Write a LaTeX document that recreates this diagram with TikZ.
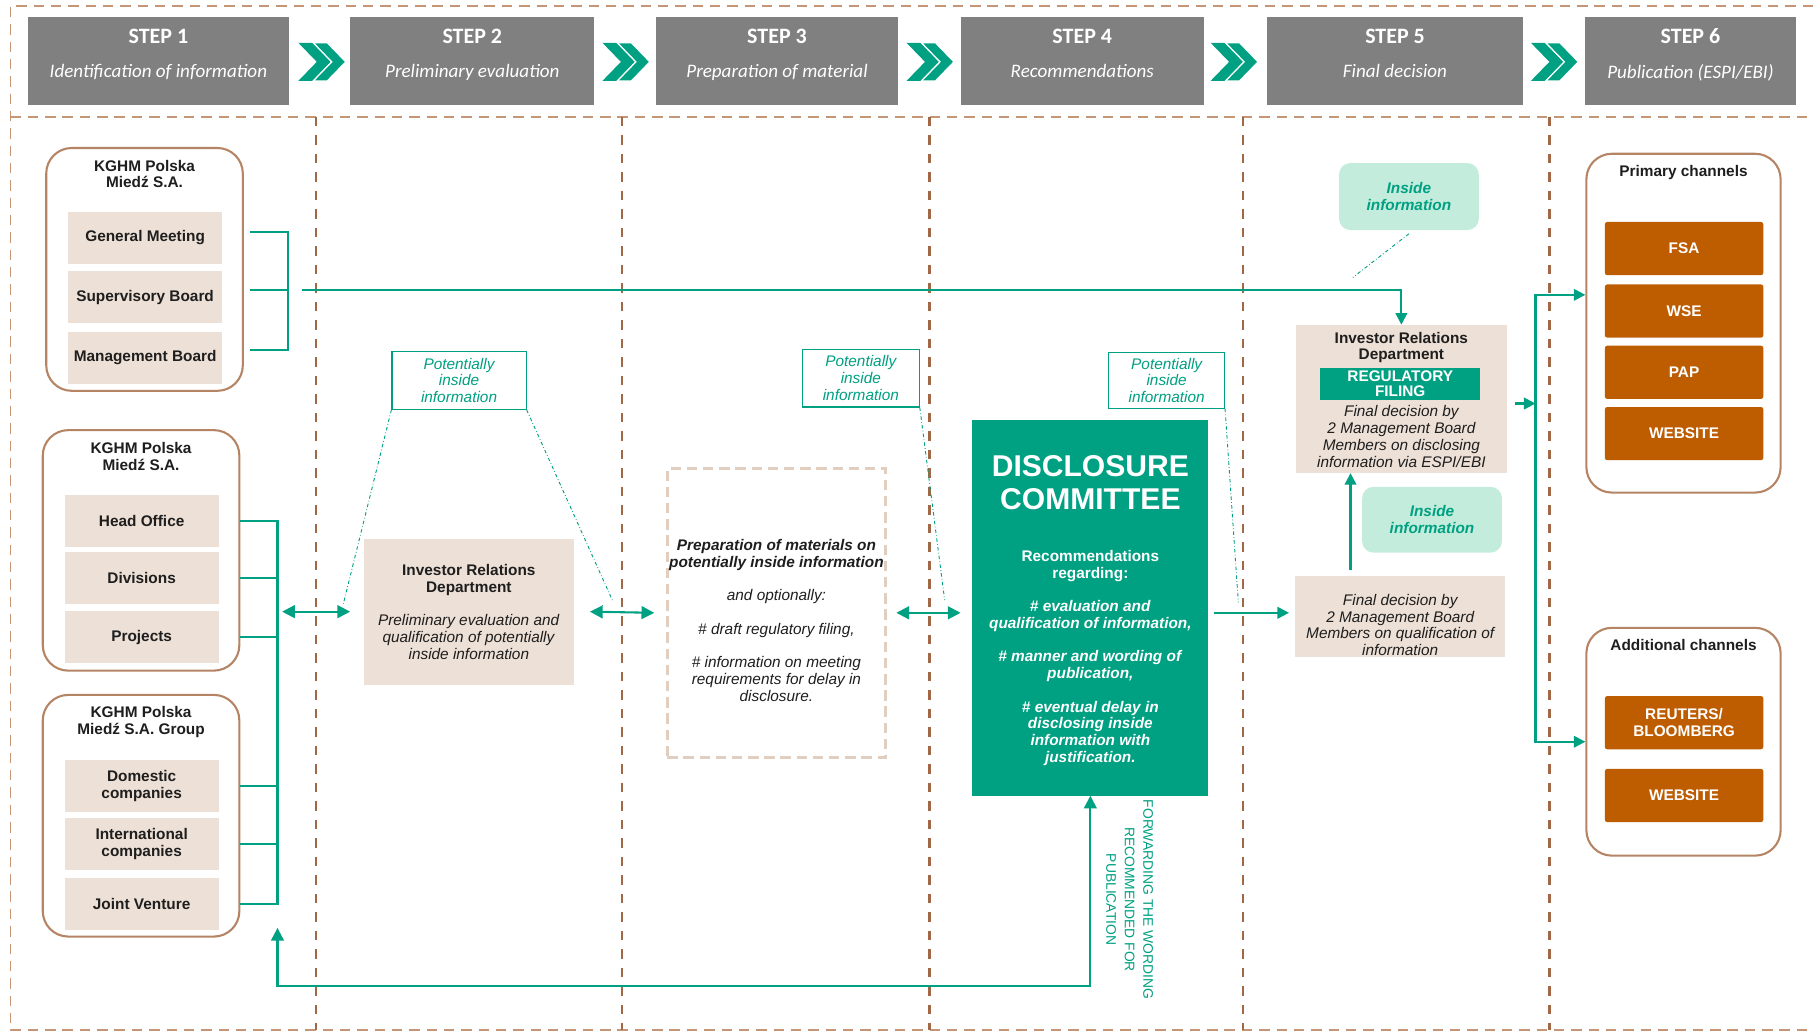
\documentclass[tikz,border=0pt]{standalone}
\usepackage{fontspec}
\setmainfont{Liberation Sans}
\newfontfamily\stepfont{Carlito}
\usetikzlibrary{arrows.meta}

\definecolor{stepgray}{RGB}{128,128,128}
\definecolor{tealc}{RGB}{0,160,130}
\definecolor{lightteal}{RGB}{196,236,220}
\definecolor{beige}{RGB}{237,224,214}
\definecolor{grpbrown}{RGB}{181,132,100}
\definecolor{brownline}{RGB}{160,104,70}
\definecolor{framebrown}{RGB}{196,150,118}
\definecolor{orangec}{RGB}{190,92,0}
\definecolor{prepline}{RGB}{226,206,190}
\definecolor{txtdark}{RGB}{30,30,30}

\newcommand{\bodyfont}{\fontsize{13.3}{14.5}\selectfont}

\tikzset{
  frame/.style={framebrown, line width=1.3pt, dash pattern=on 9pt off 6pt},
  coldiv/.style={brownline, line width=2pt, dash pattern=on 8pt off 8pt},
  stepbox/.style={fill=stepgray, text=white, font=\stepfont\fontsize{16.5}{20}\selectfont, minimum height=76pt, inner sep=0pt, align=center, text depth=14pt},
  grpbox/.style={draw=grpbrown, line width=1.8pt, rounded corners=22pt, fill=white, minimum width=170pt},
  grptitle/.style={font=\bodyfont\bfseries, text=txtdark, align=center, inner sep=0pt},
  rowbox/.style={fill=beige, text=txtdark, font=\bodyfont\bfseries, align=center, minimum width=133pt, minimum height=45pt, inner sep=0pt},
  beigebox/.style={fill=beige, text=txtdark, font=\bodyfont, align=center, inner sep=0pt},
  potbox/.style={draw=tealc, line width=1pt, fill=white, text=tealc, font=\bodyfont\itshape, align=center, inner sep=0pt},
  insbox/.style={fill=lightteal, text=tealc, font=\bodyfont\bfseries\itshape, align=center, rounded corners=10pt, minimum width=121pt, minimum height=57pt},
  chanbox/.style={fill=orangec, text=white, font=\bodyfont\bfseries, align=center, minimum width=137pt, minimum height=46pt, inner sep=0pt, rounded corners=2pt},
  chantitle/.style={font=\bodyfont\bfseries, text=txtdark, inner sep=0pt},
  link/.style={tealc, line width=1.8pt},
  conn/.style={link, -{Triangle[length=10pt,width=10pt]}},
  dconn/.style={link, {Triangle[length=11pt,width=11pt]}-{Triangle[length=11pt,width=11pt]}},
  hint/.style={tealc, line width=0.8pt, dash pattern=on 3pt off 2pt on 0.6pt off 2pt},
  dblchev/.pic={
    \fill[tealc] (0,-16.5) -- (12,-16.5) -- (28,0) -- (12,16.5) -- (0,16.5) -- (16,0) -- cycle;
    \filldraw[fill=tealc, draw=white, line width=1pt] (13,-16.5) -- (25,-16.5) -- (41,0) -- (25,16.5) -- (13,16.5) -- (29,0) -- cycle;
  }
}

\begin{document}
\begin{tikzpicture}[x=1pt,y=-1pt]
\useasboundingbox (0,0) rectangle (1568,893);

% frame and columns
\draw[frame] (1568,5) -- (9,5) -- (9,891) -- (1568,891);
\draw[frame] (9,101) -- (1568,101);
\draw[coldiv] (273,101) -- (273,891);
\draw[coldiv] (538,101) -- (538,891);
\draw[coldiv] (804,101) -- (804,891);
\draw[coldiv] (1075,101) -- (1075,891);
\draw[coldiv] (1340,101) -- (1340,891);

% steps
\node[stepbox, minimum width=226pt] (s1) at (137,53) {{\bfseries\fontsize{19}{22}\selectfont STEP 1}\\[10pt]{\itshape Identification of information}};
\node[stepbox, minimum width=211pt] (s2) at (408.5,53) {{\bfseries\fontsize{19}{22}\selectfont STEP 2}\\[10pt]{\itshape Preliminary evaluation}};
\node[stepbox, minimum width=210pt] (s3) at (672,53) {{\bfseries\fontsize{19}{22}\selectfont STEP 3}\\[10pt]{\itshape Preparation of material}};
\node[stepbox, minimum width=210pt] (s4) at (936,53) {{\bfseries\fontsize{19}{22}\selectfont STEP 4}\\[10pt]{\itshape Recommendations}};
\node[stepbox, minimum width=221pt] (s5) at (1206.5,53) {{\bfseries\fontsize{19}{22}\selectfont STEP 5}\\[10pt]{\itshape Final decision}};
\node[stepbox, minimum width=182pt] (s6) at (1462,53) {{\bfseries\fontsize{19}{22}\selectfont STEP 6}\\[10pt]{\itshape Publication (ESPI/EBI)}};
\pic at (258,53.5) {dblchev};
\pic at (521,53.5) {dblchev};
\pic at (784,53.5) {dblchev};
\pic at (1047,53.5) {dblchev};
\pic at (1324,53.5) {dblchev};

% step 1: sources
\node[grpbox, minimum height=210pt] (grpA) at (125,233) {};
\node[grptitle] (grpAt) at (125,150.5) {KGHM Polska\\Miedź S.A.};
\node[rowbox] (gm) at (125.5,205.5) {General Meeting};
\node[rowbox] (sb) at (125.5,257) {Supervisory Board};
\node[rowbox] (mb) at (125.5,309.5) {Management Board};

\node[grpbox, minimum height=208pt] (grpB) at (122,476) {};
\node[grptitle] (grpBt) at (122,394.5) {KGHM Polska\\Miedź S.A.};
\node[rowbox] (ho) at (122.5,450.5) {Head Office};
\node[rowbox] (dv) at (122.5,500) {Divisions};
\node[rowbox] (pj) at (122.5,551) {Projects};

\node[grpbox, minimum height=209pt] (grpC) at (122,705.5) {};
\node[grptitle] (grpCt) at (122,624.5) {KGHM Polska\\Miedź S.A. Group};
\node[rowbox] (dom) at (122.5,680) {Domestic\\companies};
\node[rowbox] (intl) at (122.5,730) {International\\companies};
\node[rowbox] (jv) at (122.5,781.5) {Joint Venture};

% step 2
\node[beigebox, minimum width=181pt, minimum height=126pt] (ird1) at (405.5,529) {\textbf{Investor Relations}\\\textbf{Department}\\[14.5pt]\textit{Preliminary evaluation and}\\\textit{qualification of potentially}\\\textit{inside information}};
\node[potbox, minimum width=116pt, minimum height=50pt] (pot1) at (397,329) {Potentially\\inside\\information};

% step 3
\node[draw=prepline, line width=2.4pt, dash pattern=on 9pt off 5pt, minimum width=189pt, minimum height=250pt] (prep) at (671.5,530) {};
\node[font=\bodyfont, text=txtdark, align=center, inner sep=0pt] (preptx) at (671.5,536.5) {\textbf{\textit{Preparation of materials on}}\\\textbf{\textit{potentially inside information}}\\[14.5pt]\textit{and optionally:}\\[14.5pt]\textit{\# draft regulatory filing,}\\[14.5pt]\textit{\# information on meeting}\\\textit{requirements for delay in}\\\textit{disclosure.}};
\node[potbox, minimum width=101pt, minimum height=50pt] (pot2) at (744.5,327) {Potentially\\inside\\information};

% step 4
\node[fill=tealc, minimum width=204pt, minimum height=325pt] (dcom) at (943,525.5) {};
\node[font=\fontsize{26}{29}\selectfont\bfseries, text=white, align=center, inner sep=0pt] (dcomt) at (943,417.5) {DISCLOSURE\\COMMITTEE};
\node[font=\bodyfont\bfseries, text=white, align=center, inner sep=0pt] (dcomb) at (943,569) {Recommendations\\regarding:\\[14.5pt]\textit{\# evaluation and}\\\textit{qualification of information,}\\[14.5pt]\textit{\# manner and wording of}\\\textit{publication,}\\[14.5pt]\textit{\# eventual delay in}\\\textit{disclosing inside}\\\textit{information with}\\\textit{justification.}};
\node[potbox, minimum width=100pt, minimum height=48pt] (pot3) at (1009,329) {Potentially\\inside\\information};
\node[font=\fontsize{12}{16}\selectfont, text=tealc, align=center, rotate=-90, inner sep=0pt] (fwd) at (977,778) {FORWARDING THE WORDING\\RECOMMENDED FOR\\PUBLICATION};

% step 5
\node[insbox, minimum height=58pt] (ins1) at (1218.5,170) {Inside\\information};
\node[beigebox, minimum width=182pt, minimum height=128pt] (ird2) at (1212,345) {};
\node[font=\bodyfont\bfseries, text=txtdark, align=center, inner sep=0pt] (ird2t) at (1212,300.5) {Investor Relations\\Department};
\node[fill=tealc, text=white, font=\fontsize{13.3}{13.5}\selectfont\bfseries, align=center, minimum width=138pt, minimum height=28pt, inner sep=0pt] (regf) at (1211,332) {REGULATORY\\FILING};
\node[font=\bodyfont\itshape, text=txtdark, align=center, inner sep=0pt] (ird2b) at (1212,377.5) {Final decision by\\2 Management Board\\Members on disclosing\\information via ESPI/EBI};
\node[insbox] (ins2) at (1238.5,449.5) {Inside\\information};
\node[beigebox, minimum width=182pt, minimum height=70pt] (fdec) at (1211,533) {};
\node[font=\bodyfont\itshape, text=txtdark, align=center, inner sep=0pt] (fdect) at (1211,540.5) {Final decision by\\2 Management Board\\Members on qualification of\\information};

% step 6
\node[grpbox, minimum width=168pt, minimum height=293pt] (prim) at (1456,279.5) {};
\node[chantitle] (primt) at (1456,149) {Primary channels};
\node[chanbox] (fsa) at (1456.5,215) {FSA};
\node[chanbox] (wse) at (1456.5,269) {WSE};
\node[chanbox] (pap) at (1456.5,322) {PAP};
\node[chanbox] (web1) at (1456.5,375) {WEBSITE};
\node[grpbox, minimum width=168pt, minimum height=197pt] (addc) at (1456,641.5) {};
\node[chantitle] (addct) at (1456,558) {Additional channels};
\node[chanbox] (reut) at (1456.5,625) {REUTERS/\\BLOOMBERG};
\node[chanbox] (web2) at (1456.5,688) {WEBSITE};

% brackets and flow
\coordinate (brA) at (249,251);
\draw[link, shorten <=5pt] ([yshift=5pt]gm.east -| grpA.east) -| (brA);
\draw[link, shorten <=5pt] ([yshift=6pt]sb.east -| grpA.east) -- (brA);
\draw[link, shorten <=5pt] ([yshift=7pt]mb.east -| grpA.east) -| (brA);
\draw[conn, shorten <=12pt] (brA) -| (ird2.north);

\coordinate (brB) at (240,529);
\draw[link] (ho.east -| grpB.east) -| (brB);
\draw[link] (dv.east -| grpB.east) -- (dv.east -| brB);
\draw[link] (pj.east -| grpB.east) -- (pj.east -| brB);
\draw[link] (dom.east -| grpC.east) -- (dom.east -| brB);
\draw[link] (intl.east -| grpC.east) -- (intl.east -| brB);
\draw[link] (jv.east -| grpC.east) -| (brB);

\draw[dconn] ([xshift=4pt]brB) -- ([xshift=-12pt]ird1.west);
\draw[dconn] ([xshift=14pt]ird1.east) -- ([xshift=-10pt]prep.west);
\draw[dconn] ([xshift=8pt]prep.east) -- ([xshift=-10pt]dcom.west |- prep.east);
\draw[conn] ([xshift=5pt]dcom.east |- prep.east) -- ([xshift=-5pt]fdec.west |- prep.east);
\draw[conn] ([xshift=-44pt,yshift=5pt]ird2.south |- fdec.north) -- ([xshift=-44pt]ird2.south);

\coordinate (fwdl) at (240,853);
\draw[dconn] ([yshift=-21pt]jv.east -| brB) -- (fwdl) -| (dcom.south);

\coordinate (split) at (1328,349);
\draw[conn] ([xshift=7pt]ird2.east |- split) -- (split);
\draw[conn] (split) |- ([yshift=24.5pt]prim.west);
\draw[conn] (split) |- (addc.west);

% dash-dot hints
\coordinate (pot1l) at (297,522);
\coordinate (pot1r) at (530,520);
\coordinate (pot2r) at (817,519);
\coordinate (pot3r) at (1071,521);
\coordinate (ins1e) at (1170,240);
\draw[hint] (pot1.south west) -- (pot1l);
\draw[hint] (pot1.south east) -- (pot1r);
\draw[hint] (pot2.south east) -- (pot2r);
\draw[hint] (pot3.south east) -- (pot3r);
\draw[hint] ([yshift=-3pt]ins1.south) -- (ins1e);
\end{tikzpicture}
\end{document}
